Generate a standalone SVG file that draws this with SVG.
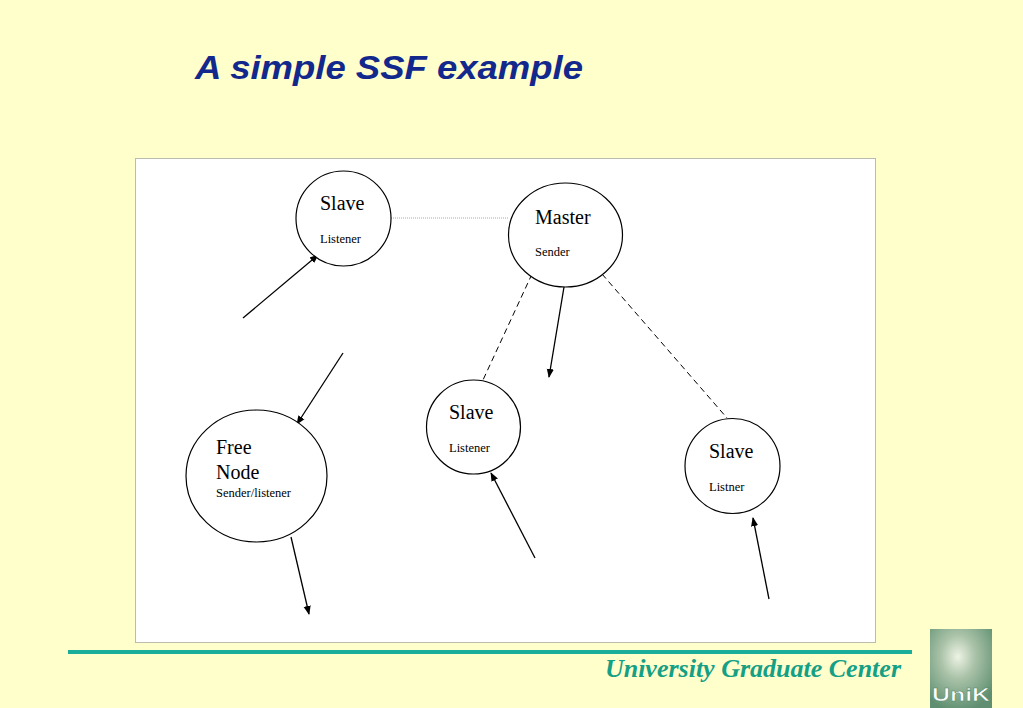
<svg xmlns="http://www.w3.org/2000/svg" width="1023" height="708" viewBox="0 0 1023 708">
<style>
.node{fill:#fff;stroke:#000;stroke-width:1.2}
.big{font-family:"Liberation Serif","Times New Roman",serif;font-size:20px;fill:#000}
.small{font-family:"Liberation Serif","Times New Roman",serif;font-size:12.5px;fill:#000}
.arrow{stroke:#000;stroke-width:1.3;fill:none;marker-end:url(#ah)}
.dash{stroke:#000;stroke-width:1;fill:none;stroke-dasharray:6 4}
</style>
<defs>
<marker id="ah" viewBox="0 0 10 10" refX="9" refY="5" markerWidth="9" markerHeight="9" markerUnits="userSpaceOnUse" orient="auto">
<path d="M0,1 L10,5 L0,9 z" fill="#000"/>
</marker>
<radialGradient id="lg" cx="0.45" cy="0.35" r="0.7">
<stop offset="0" stop-color="#eef3e4"/>
<stop offset="0.4" stop-color="#a9c2a8"/>
<stop offset="1" stop-color="#5f8f70"/>
</radialGradient>
</defs>
<rect x="0" y="0" width="1023" height="708" fill="#FFFFCC"/>
<text x="195" y="79" font-family="Liberation Sans,Arial,sans-serif" font-weight="bold" font-style="italic" font-size="34" fill="#13288C" textLength="388" lengthAdjust="spacingAndGlyphs">A simple SSF example</text>
<rect x="135.5" y="158.5" width="740" height="484" fill="#fff" stroke="#777" stroke-width="1" stroke-dasharray="1 1"/>
<g id="connectors">
<line x1="391" y1="218" x2="508" y2="218" stroke="#aaa" stroke-width="1" stroke-dasharray="1 1"/>
<line class="dash" x1="532" y1="274" x2="483" y2="380"/>
<line class="dash" x1="602" y1="274" x2="727" y2="418"/>
<line class="arrow" x1="243" y1="318" x2="318" y2="255"/>
<line class="arrow" x1="343" y1="353" x2="297" y2="424"/>
<line class="arrow" x1="564" y1="287" x2="549" y2="377"/>
<line class="arrow" x1="291" y1="537" x2="309" y2="614"/>
<line class="arrow" x1="535" y1="558" x2="491" y2="473"/>
<line class="arrow" x1="769" y1="599" x2="753" y2="518"/>
</g>
<g id="slave-top">
<circle class="node" cx="343.5" cy="218.5" r="47.5"/>
<text class="big" x="320" y="210">Slave</text>
<text class="small" x="320" y="243">Listener</text>
</g>
<g id="master">
<ellipse class="node" cx="565.5" cy="235" rx="57" ry="52"/>
<text class="big" x="535" y="224">Master</text>
<text class="small" x="535" y="256">Sender</text>
</g>
<g id="slave-mid">
<circle class="node" cx="473.5" cy="427" r="47"/>
<text class="big" x="449" y="419">Slave</text>
<text class="small" x="449" y="452">Listener</text>
</g>
<g id="free-node">
<ellipse class="node" cx="256.5" cy="476" rx="70.5" ry="66"/>
<text class="big" x="216" y="454">Free</text>
<text class="big" x="216" y="479">Node</text>
<text class="small" x="216" y="497">Sender/listener</text>
</g>
<g id="slave-right">
<circle class="node" cx="732.5" cy="466" r="47.5"/>
<text class="big" x="709" y="458">Slave</text>
<text class="small" x="709" y="491">Listner</text>
</g>
<rect x="68" y="650" width="844" height="4" fill="#1AAE9A"/>
<text x="901" y="677" text-anchor="end" font-family="Liberation Serif,'Times New Roman',serif" font-weight="bold" font-style="italic" font-size="26" fill="#14A085">University Graduate Center</text>
<g id="logo">
<rect x="930" y="629" width="62" height="79" fill="url(#lg)"/>
<text x="961" y="701" text-anchor="middle" font-family="Liberation Sans,Arial,sans-serif" font-weight="bold" font-size="18" fill="#fff" stroke="#4f8a6a" stroke-width="0.5" textLength="58" lengthAdjust="spacingAndGlyphs">UniK</text>
</g>
</svg>
